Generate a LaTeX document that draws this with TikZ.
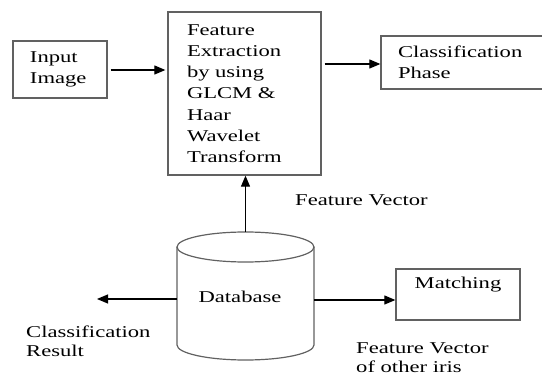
\documentclass[tikz,border=0pt]{standalone}
\usepackage{fontspec}
\setmainfont{Liberation Serif}[FakeStretch=1.37]
\usetikzlibrary{arrows.meta}
\tikzset{
  every node/.style={font=\fontsize{16.5}{20.5}\selectfont, text=black},
  box/.style={draw=black!62, line width=1.3pt, rectangle, inner ysep=0pt},
  conn/.style={draw=black, line width=1.2pt, -{Triangle[length=11pt,width=9pt]}},
  txt/.style={inner sep=0pt, align=left},
  cyl/.style={draw=black!62, line width=1.2pt}
}
\begin{document}
\begin{tikzpicture}[x=1pt,y=1pt]
\useasboundingbox (0,0) rectangle (542,378);
% boxes
\node[box, minimum width=94pt, minimum height=57pt, inner xsep=17pt, text width=60pt, align=left] (input) at (60,308.5) {Input\\Image};
\node[box, minimum width=153pt, minimum height=163pt, inner xsep=19pt, text width=115pt, align=left,
  font=\fontsize{16.5}{21.2}\selectfont] (feat) at (244.5,284.5) {Feature\\Extraction\\by using\\GLCM \&\\Haar\\Wavelet\\Transform};
\node[box, minimum width=179pt, minimum height=53pt, inner xsep=17pt, text width=145pt, align=left] (cls) at (470.5,315.5) {Classification\\Phase};
\node[box, minimum width=124pt, minimum height=51pt] (match) at (458,83.5) {};
\node[txt] (matchlbl) at (458,93) {Matching};
% database cylinder
\draw[cyl] (177,131) -- (177,33) arc[start angle=180, end angle=360, x radius=68.5pt, y radius=15pt] -- (314,131);
\draw[cyl] (245.5,131) ellipse[x radius=68.5pt, y radius=15pt];
\coordinate (dbtop) at (245.5,146);
\coordinate (dbleft) at (177,79);
\coordinate (dbright) at (314,78);
\coordinate (clsres) at (97,79);
\node[txt] (db) at (240,81) {Database};
% labels
\node[txt, anchor=west] (fv) at (295,178) {Feature Vector};
\node[txt, anchor=west, font=\fontsize{16.5}{19.5}\selectfont] (cr) at (26,36.5) {Classification\\Result};
\node[txt, anchor=west, font=\fontsize{16.5}{19.5}\selectfont] (fvo) at (356,20.5) {Feature Vector\\of other iris};
% connectors
\draw[conn, shorten <=3pt, shorten >=2pt] (input.east |- 0,308) -- (feat.west |- 0,308);
\draw[conn, shorten <=3pt] (feat.east |- 0,314) -- (cls.west |- 0,314);
\draw[conn] (dbtop) -- (feat.south -| dbtop);
\draw[conn] (dbleft) -- (clsres);
\draw[conn] (dbright) -- (dbright -| match.west);
\end{tikzpicture}
\end{document}
